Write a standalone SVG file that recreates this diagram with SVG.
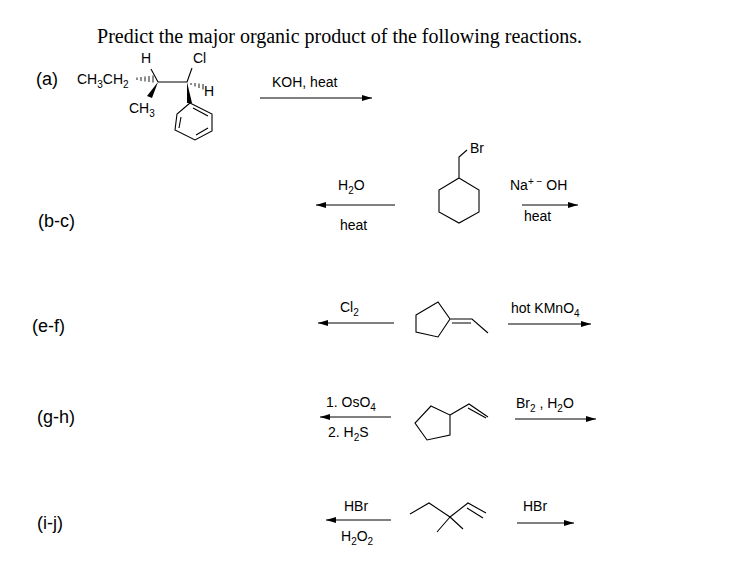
<svg xmlns="http://www.w3.org/2000/svg" width="730" height="562" viewBox="0 0 730 562">
<defs><marker id="ah" markerWidth="10" markerHeight="6" refX="10" refY="3" orient="auto" markerUnits="userSpaceOnUse"><path d="M0,0 L10,3 L0,6 Z" fill="#000"/></marker></defs>
<style>
text{font-family:"Liberation Sans",Arial,sans-serif;font-size:14px;fill:#000}
.t{font-family:"Liberation Serif","Times New Roman",serif;font-size:20px}
.b{stroke:#000;stroke-width:1.1;fill:none}
.h{stroke:#000;stroke-width:0.9;fill:none}
.a{stroke:#000;stroke-width:1;marker-end:url(#ah)}
.lbl{font-size:18px}
</style>
<rect width="730" height="562" fill="#fff"/>
<text class="t" x="97" y="43" textLength="485">Predict the major organic product of the following reactions.</text>
<g id="labels">
<text class="lbl" x="36" y="85">(a)</text>
<text class="lbl" x="38" y="227">(b-c)</text>
<text class="lbl" x="32" y="332">(e-f)</text>
<text class="lbl" x="37" y="423">(g-h)</text>
<text class="lbl" x="37" y="529">(i-j)</text>
</g>
<g id="mol-a">
<text x="77" y="84">CH<tspan font-size="10" dy="4">3</tspan><tspan dy="-4">CH</tspan><tspan font-size="10" dy="4">2</tspan></text>
<text x="141" y="63">H</text>
<text x="193" y="63">Cl</text>
<text x="204" y="96">H</text>
<text x="129" y="113">CH<tspan font-size="10" dy="4">3</tspan></text>
<path class="b" d="M158,82 L187,82 M158,82 L151,69 M187,82 L192,68"/>
<path class="h" d="M137,77.5 L137,80 M141,77 L141,81 M145,76.5 L145,81.5 M149,76 L149,82 M153,75.5 L153,82.5"/>
<path class="h" d="M191,83 L191,85 M195,83 L195,86.5 M199,83.5 L199,88 M203,84 L203,89.5"/>
<path d="M158,82 L152,98 L147,96 Z" fill="#000"/>
<path d="M187,82 L192,103 L187,103 Z" fill="#000"/>
<path class="b" d="M190,103 L212,114 L212,131 L195,140 L175,130 L177,114 Z M193,108 L208,116 M208,128 L196,135 M179,128 L181,117"/>
</g>
<g id="mol-bc">
<path class="b" d="M459,178 L479,190 L479,212 L459,223 L439,212 L439,190 Z M459,178 L459,157 L467,150"/>
<text x="470" y="153">Br</text>
</g>
<g id="mol-ef">
<path class="b" d="M416,315 L438,302 L450,319 L438,337 L416,332 Z M450,319 L472,319 L488,333 M452,323 L471,323"/>
</g>
<g id="mol-gh">
<path class="b" d="M431,406 L450,415 L450,435 L427,440 L415,423 Z M450,415 L469,404 L488,417 M468,408 L486,418"/>
</g>
<g id="mol-ij">
<path class="b" d="M410,514 L429,503 L450,517 L468,503 L486,513 M467,508 L483,518 M450,517 L437,532 M450,517 L463,529"/>
</g>
<g id="connectors">
<line class="a" x1="260" y1="98" x2="372" y2="98"/>
<line class="a" x1="395" y1="205" x2="316" y2="205"/>
<line class="a" x1="522" y1="205" x2="578" y2="205"/>
<line class="a" x1="394" y1="323" x2="318" y2="323"/>
<line class="a" x1="508" y1="324" x2="591" y2="324"/>
<line class="a" x1="391" y1="417" x2="320" y2="417"/>
<line class="a" x1="515" y1="419" x2="596" y2="419"/>
<line class="a" x1="391" y1="520" x2="326" y2="520"/>
<line class="a" x1="517" y1="523" x2="574" y2="523"/>
</g>
<g id="reagents">
<text x="272" y="87">KOH, heat</text>
<text x="338" y="190">H<tspan font-size="10" dy="4">2</tspan><tspan dy="-4">O</tspan></text>
<text x="340" y="230">heat</text>
<text x="510" y="190">Na<tspan font-size="10" dy="-5">+ −</tspan><tspan dy="5"> OH</tspan></text>
<text x="524" y="221">heat</text>
<text x="340" y="312">Cl<tspan font-size="10" dy="4">2</tspan></text>
<text x="511" y="313">hot KMnO<tspan font-size="10" dy="4">4</tspan></text>
<text x="326" y="407">1. OsO<tspan font-size="10" dy="4">4</tspan></text>
<text x="328" y="437">2. H<tspan font-size="10" dy="4">2</tspan><tspan dy="-4">S</tspan></text>
<text x="516" y="408">Br<tspan font-size="10" dy="4">2</tspan><tspan dy="-4"> , H</tspan><tspan font-size="10" dy="4">2</tspan><tspan dy="-4">O</tspan></text>
<text x="344" y="511">HBr</text>
<text x="341" y="541">H<tspan font-size="10" dy="4">2</tspan><tspan dy="-4">O</tspan><tspan font-size="10" dy="4">2</tspan></text>
<text x="523" y="511">HBr</text>
</g>
</svg>
